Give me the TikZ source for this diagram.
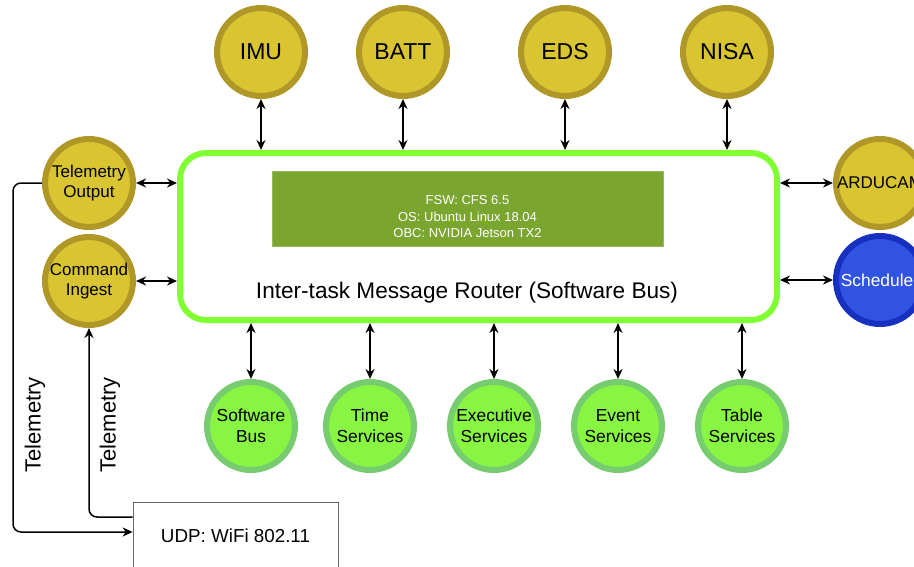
\documentclass[tikz,border=0pt]{standalone}
\usepackage{fontspec}
\setmainfont{Liberation Sans}
\usetikzlibrary{arrows.meta}
\definecolor{goldfill}{RGB}{217,196,50}
\definecolor{golddraw}{RGB}{176,152,40}
\definecolor{greenfill}{RGB}{136,245,66}
\definecolor{greendraw}{RGB}{119,204,112}
\definecolor{busgreen}{RGB}{128,255,51}
\definecolor{infogreen}{RGB}{122,166,48}
\definecolor{bluefill}{RGB}{48,84,224}
\definecolor{bluedraw}{RGB}{24,48,192}
\tikzset{
  gold/.style={circle,fill=goldfill,draw=golddraw,line width=6pt,minimum size=88pt,inner sep=0pt,align=center,text=black},
  svc/.style={circle,fill=greenfill,draw=greendraw,line width=6pt,minimum size=88pt,inner sep=0pt,align=center,text=black,font=\fontsize{17.4}{21}\selectfont},
  big/.style={font=\fontsize{23}{27}\selectfont},
  mid/.style={font=\fontsize{17}{20}\selectfont},
  link/.style={line width=1.5pt,draw=black,{Stealth[length=10pt,width=9pt]}-{Stealth[length=10pt,width=9pt]}},
  wire/.style={line width=1.5pt,draw=black,rounded corners=8pt,-{Stealth[length=10pt,width=9pt]}}
}
\begin{document}
\begin{tikzpicture}[x=1pt,y=-1pt]
\useasboundingbox (0,0) rectangle (914,566);
% bus
\node[draw=busgreen,line width=6pt,rounded corners=26pt,minimum width=597pt,minimum height=167pt,inner sep=0pt] (bus) at (478.5,236.5) {};
\node[fill=infogreen,draw=infogreen!80!white,line width=0.8pt,minimum width=391pt,minimum height=75pt,inner sep=0pt] (info) at (467.5,208.5) {};
\node[align=center,text=white,font=\fontsize{13}{16.5}\selectfont] (infotext) at (467.5,217) {FSW: CFS 6.5\\OS: Ubuntu Linux 18.04\\OBC: NVIDIA Jetson TX2};
\node[font=\fontsize{22.6}{26}\selectfont] (router) at (467,293) {Inter-task Message Router (Software Bus)};
% top
\node[gold,big] (imu) at (261,52) {IMU};
\node[gold,big] (batt) at (403,52) {BATT};
\node[gold,big] (eds) at (565,52) {EDS};
\node[gold,big] (nisa) at (727,52) {NISA};
\foreach \n in {imu,batt,eds,nisa}
  \draw[link] (\n.south) -- (\n.south |- bus.north);
% left
\node[gold,mid] (tlm) at (89,183) {Telemetry\\Output};
\node[gold,mid] (cmd) at (89,281) {Command\\Ingest};
\draw[link] (tlm.east) -- (tlm.east -| bus.west);
\draw[link] (cmd.east) -- (cmd.east -| bus.west);
% right
\node[gold,mid] (cam) at (880,183) {ARDUCAM};
\node[circle,fill=bluefill,draw=bluedraw,line width=6pt,minimum size=88pt,inner sep=0pt,text=white,font=\fontsize{17.4}{20}\selectfont] (sched) at (880,280) {Scheduler};
\draw[link] (cam.west) -- (cam.west -| bus.east);
\draw[link] (sched.west) -- (sched.west -| bus.east);
% bottom
\node[svc] (sb) at (251,426) {Software\\Bus};
\node[svc] (time) at (370,426) {Time\\Services};
\node[svc] (exec) at (494,426) {Executive\\Services};
\node[svc] (evt) at (618,426) {Event\\Services};
\node[svc] (tbl) at (742,426) {Table\\Services};
\foreach \n in {sb,time,exec,evt,tbl}
  \draw[link] (\n.north) -- (\n.north |- bus.south);
% UDP
\node[draw=black!60,line width=0.8pt,minimum width=205pt,minimum height=68pt,inner sep=0pt,font=\fontsize{18.8}{22}\selectfont] (udp) at (235.5,536) {UDP: WiFi 802.11};
\coordinate (c1) at (13,183);
\coordinate (c2) at (13,532);
\draw[wire] (tlm.west) -- (c1) -- (c2) -- ([yshift=4pt]udp.west);
\draw[wire] ([yshift=19pt]udp.west) -| (cmd.south);
\node[rotate=90,font=\fontsize{22}{26}\selectfont] (lab1) at (35,425) {Telemetry};
\node[rotate=90,font=\fontsize{22}{26}\selectfont] (lab2) at (110,425) {Telemetry};
\end{tikzpicture}
\end{document}
